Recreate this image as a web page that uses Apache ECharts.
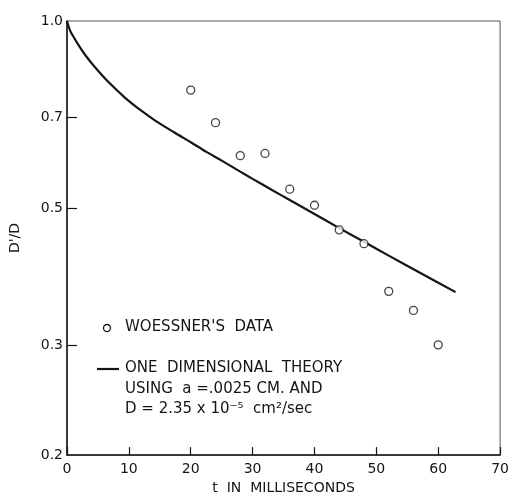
<!DOCTYPE html>
<html>
<head>
<meta charset="utf-8">
<script src="https://cdn.jsdelivr.net/npm/echarts/dist/echarts.min.js"></script>
<style>
  html, body { margin: 0; padding: 0; background: #fff; }
  #chart { width: 512px; height: 500px; }
</style>
</head>
<body>
<div id="chart"></div>
<script>
// Woessner's data (open circles)
const dataT = [20, 24, 28, 32, 36, 40, 44, 48, 52, 56, 60];
const dataRatio = [0.774, 0.686, 0.607, 0.612, 0.536, 0.505, 0.461, 0.438, 0.367, 0.342, 0.301];

// one dimensional theory curve
const theoryT = [0, 0.5, 1, 2, 3, 4.5, 6.5, 9.4, 12, 14.2, 17.3, 20, 22.6, 25, 28, 30, 33.2, 36, 40, 44, 48, 52, 57.5, 62.8];
const theoryRatio = [1.0, 0.965, 0.945, 0.91, 0.88, 0.843, 0.801, 0.752, 0.717, 0.692, 0.662, 0.638, 0.615, 0.596, 0.572, 0.557, 0.534, 0.515, 0.489, 0.464, 0.441, 0.419, 0.391, 0.366];

// tick labels
const yLabelValues = [0.2, 0.3, 0.5, 0.7, 1.0];
const yTickValues = [0.3, 0.5, 0.7];

const font = 'DejaVu Sans';
const ink = '#151515';

let myChart = echarts.init(document.getElementById('chart'));

let option = {
  backgroundColor: '#fff',
  animation: false,
  grid: {
    left: 61,
    right: 11,
    top: 21,
    bottom: 38,
    show: true,
    borderColor: '#555',
    borderWidth: 1
  },
  xAxis: {
    type: 'value',
    min: 0,
    max: 70,
    interval: 10,
    name: 't  IN  MILLISECONDS',
    nameLocation: 'middle',
    nameGap: 25,
    nameTextStyle: { fontFamily: font, fontSize: 14, color: ink },
    axisLine: { lineStyle: { color: ink, width: 1.5 } },
    axisTick: { inside: true, length: 8, lineStyle: { color: ink, width: 1.2 } },
    axisLabel: { fontFamily: font, fontSize: 14, color: ink, margin: 7 },
    splitLine: { show: false }
  },
  yAxis: {
    type: 'log',
    logBase: 10,
    min: 0.2,
    max: 1.0,
    name: "D'/D",
    nameLocation: 'middle',
    nameGap: 45,
    nameRotate: 90,
    nameTextStyle: { fontFamily: font, fontSize: 14, color: ink },
    axisLine: { lineStyle: { color: ink, width: 1.5 } },
    axisTick: {
      inside: true,
      length: 10,
      customValues: yTickValues,
      lineStyle: { color: ink, width: 1.2 }
    },
    axisLabel: {
      fontFamily: font,
      fontSize: 14,
      color: ink,
      margin: 4,
      customValues: yLabelValues,
      formatter: function (v) { return Number(v).toFixed(1); }
    },
    splitLine: { show: false }
  },
  series: [
    {
      name: 'theory',
      type: 'line',
      smooth: 0.3,
      showSymbol: false,
      lineStyle: { color: ink, width: 2.2 },
      data: theoryT.map((t, i) => [t, theoryRatio[i]]),
      z: 2
    },
    {
      name: "WOESSNER'S DATA",
      type: 'scatter',
      symbol: 'circle',
      symbolSize: 8,
      itemStyle: { color: '#fff', borderColor: ink, borderWidth: 1.3 },
      data: dataT.map((t, i) => [t, dataRatio[i]]),
      z: 3
    }
  ],
  // legend drawn by hand, as in the original figure
  graphic: [
    { type: 'circle', shape: { cx: 107, cy: 328, r: 3.5 }, style: { fill: '#fff', stroke: ink, lineWidth: 1.3 } },
    { type: 'text', left: 125, top: 320, style: { text: "WOESSNER'S  DATA", font: '15px "DejaVu Sans"', fill: ink } },
    { type: 'line', shape: { x1: 97, y1: 369, x2: 119, y2: 369 }, style: { stroke: ink, lineWidth: 2.2 } },
    { type: 'text', left: 125, top: 361, style: { text: 'ONE  DIMENSIONAL  THEORY', font: '15px "DejaVu Sans"', fill: ink } },
    { type: 'text', left: 125, top: 382, style: { text: 'USING  a =.0025 CM. AND', font: '15px "DejaVu Sans"', fill: ink } },
    { type: 'text', left: 125, top: 402, style: { text: 'D = 2.35 x 10⁻⁵  cm²/sec', font: '15px "DejaVu Sans"', fill: ink } }
  ]
};

myChart.setOption(option);
</script>
</body>
</html>
